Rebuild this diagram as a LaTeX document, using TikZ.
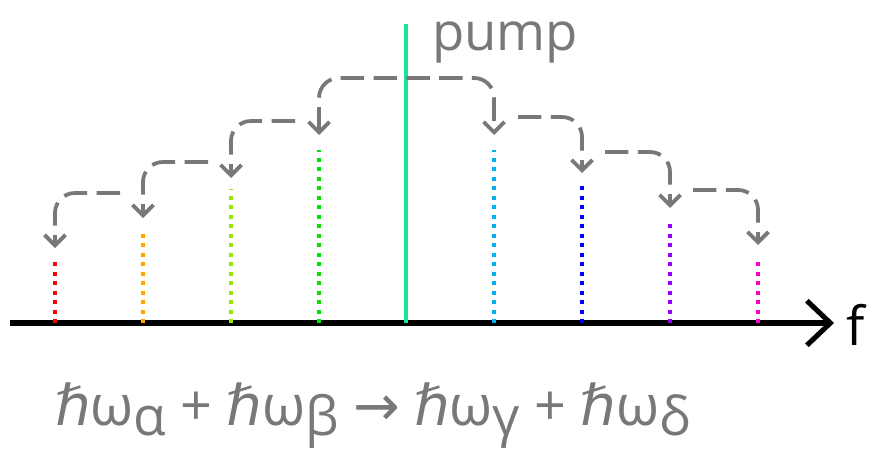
\documentclass[tikz,border=0pt]{standalone}
\usepackage{fontspec}
\setmainfont{Open Sans}
\newfontfamily\symfont{DejaVu Sans}
\usetikzlibrary{arrows.meta}
\definecolor{PumpGreen}{RGB}{20,232,150}
\definecolor{HopGray}{RGB}{120,120,120}
\definecolor{LineRed}{RGB}{255,0,0}
\definecolor{LineOrange}{RGB}{255,165,0}
\definecolor{LineLime}{RGB}{150,230,0}
\definecolor{LineGreen}{RGB}{0,228,0}
\definecolor{LineSky}{RGB}{0,176,240}
\definecolor{LineBlue}{RGB}{0,0,255}
\definecolor{LinePurple}{RGB}{150,0,255}
\definecolor{LineMagenta}{RGB}{255,0,200}
\newcommand\planckw{{\symfont ℏ}ω}
\newcommand\lowsub[1]{\raisebox{-9pt}{\fontsize{46pt}{46pt}\selectfont #1}}

\begin{document}
\begin{tikzpicture}[x=0.03cm,y=-0.03cm,
  barb/.tip={Straight Barb[length=9pt,width=18pt]},
  comb/.style={line width=3.4pt,dash pattern=on 3.4pt off 4.7pt},
  hop/.style={draw=HopGray,line width=3.2pt,dash pattern=on 20pt off 8pt,rounded corners=17pt,-barb}]
\useasboundingbox (0,0) rectangle (879,448);
% frequency axis
\coordinate (a0) at (10,323);
\coordinate (a1) at (834,323);
\draw[line width=4.3pt,-{Straight Barb[length=20pt,width=38pt]}] (a0) -- (a1);
\node[anchor=base west,font=\fontsize{46}{50}\selectfont,inner sep=0pt] (f) at (846,345) {f};
% pump
\coordinate (p0) at (406,323);
\coordinate (p1) at (406,24);
\draw[PumpGreen,line width=3.4pt] (p0) -- (p1);
\node[anchor=base west,text=HopGray,font=\fontsize{45}{50}\selectfont,inner sep=0pt] (pump) at (432,50) {pump};
% comb lines
\draw[comb,LineRed] (55,323) -- (55,262);
\draw[comb,LineOrange] (143,323) -- (143,230);
\draw[comb,LineLime] (231,323) -- (231,189);
\draw[comb,LineGreen] (319,323) -- (319,150);
\draw[comb,LineSky] (494,323) -- (494,150);
\draw[comb,LineBlue] (582,323) -- (582,186);
\draw[comb,LinePurple] (670,323) -- (670,222);
\draw[comb,LineMagenta] (758,323) -- (758,260);
% cascade
\coordinate (g) at (319,135);
\coordinate (s) at (494,135);
\coordinate (y) at (231,178);
\coordinate (b) at (582,173);
\coordinate (o) at (143,218);
\coordinate (v) at (670,208);
\coordinate (r) at (55,248);
\coordinate (m) at (758,245);
\draw[hop,barb-barb] (g) -- (g |- 0,78) -- (s |- 0,78) -- (s);
\draw[hop] (295,121) -- (y |- 0,121) -- (y);
\draw[hop] (518,117) -- (b |- 0,117) -- (b);
\draw[hop] (208,162) -- (o |- 0,162) -- (o);
\draw[hop] (605,152) -- (v |- 0,152) -- (v);
\draw[hop] (120,193) -- (r |- 0,193) -- (r);
\draw[hop] (693,190) -- (m |- 0,190) -- (m);
% energy balance
\node[anchor=base west,text=HopGray,inner sep=0pt] (eq) at (55,425)
  {\resizebox{19.05cm}{\height}{\fontsize{48}{56}\selectfont
   \planckw\lowsub{α} + \planckw\lowsub{β} {\symfont →} \planckw\lowsub{γ} + \planckw\lowsub{δ}}};
\end{tikzpicture}
\end{document}
